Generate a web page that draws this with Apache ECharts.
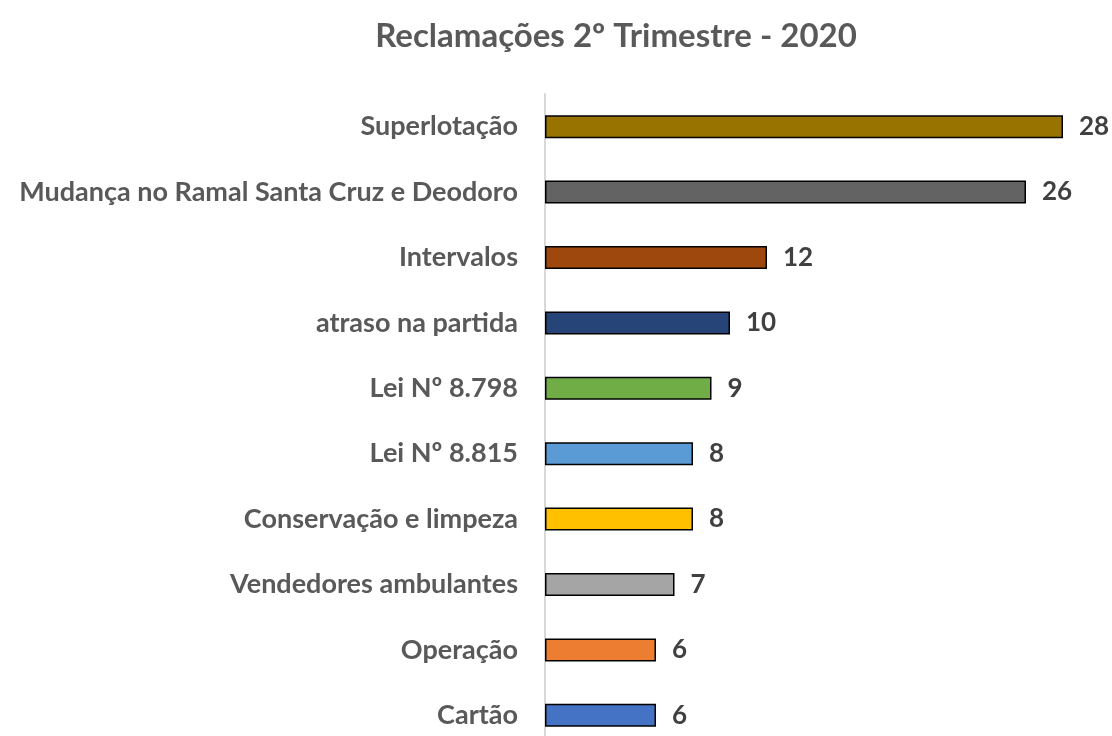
<!DOCTYPE html>
<html lang="pt">
<head>
<meta charset="utf-8">
<title>Reclamações 2º Trimestre - 2020</title>
<script src="https://cdn.jsdelivr.net/npm/echarts@6/dist/echarts.min.js"></script>
<style>
	html, body { margin: 0; padding: 0; background: #fff; }
	#chart { width: 1112px; height: 736px; }
</style>
</head>
<body>
<div id="chart"></div>
<script type="text/javascript">
	// dados (de cima para baixo)
	var categorias = ['Superlotação', 'Mudança no Ramal Santa Cruz e Deodoro', 'Intervalos',
		'atraso na partida', 'Lei Nº 8.798', 'Lei Nº 8.815', 'Conservação e limpeza',
		'Vendedores ambulantes', 'Operação', 'Cartão'];
	var valores = [28, 26, 12, 10, 9, 8, 8, 7, 6, 6];
	var cores = ['#997300', '#636363', '#9E480E', '#264478', '#70AD47',
		'#5B9BD5', '#FFC000', '#A5A5A5', '#ED7D31', '#4472C4'];

	var fonte = 'Lato, "Open Sans", sans-serif';

	var dados = [];
	for (var i = 0; i < valores.length; i++) {
		dados.push({
			value: valores[i],
			itemStyle: { color: cores[i] }
		});
	}

	var myChart = echarts.init(document.getElementById('chart'));
	var option = {
		animation: false,
		title: {
			text: 'Reclamações 2º Trimestre - 2020',
			left: 611,
			textAlign: 'center',
			top: 15,
			textStyle: {
				fontFamily: fonte,
				fontSize: 33,
				fontWeight: 'bold',
				color: '#595959'
			}
		},
		grid: {
			left: 545,
			width: 555,
			top: 94,
			height: 654,
			outerBoundsMode: 'none'
		},
		xAxis: {
			type: 'value',
			min: 0,
			max: 30,
			show: false
		},
		yAxis: {
			type: 'category',
			inverse: true,
			data: categorias,
			axisLine: { show: true, lineStyle: { color: '#D9D9D9', width: 2 } },
			axisTick: { show: false },
			axisLabel: {
				margin: 27,
				fontFamily: fonte,
				fontSize: 27,
				fontWeight: 'bold',
				color: '#595959'
			}
		},
		series: [{
			type: 'bar',
			data: dados,
			barWidth: 23,
			itemStyle: {
				borderColor: '#000',
				borderWidth: 1.5
			},
			label: {
				show: true,
				position: 'right',
				distance: 16,
				fontFamily: fonte,
				fontSize: 26,
				fontWeight: 'bold',
				color: '#404040'
			}
		}]
	};
	myChart.setOption(option);
</script>
</body>
</html>
